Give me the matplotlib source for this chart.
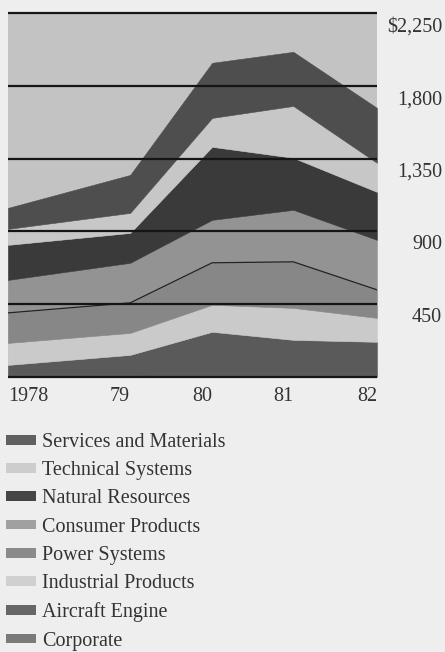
import numpy as np
import matplotlib
matplotlib.use('Agg')
import matplotlib.pyplot as plt
import matplotlib.transforms as mtransforms
from matplotlib.patches import Patch

# data ($ millions), bottom layer first
years = [1978, 1979, 1980, 1981, 1982]
corporate = [15, 20, 25, 25, 25]
aircraft = [59, 116, 254, 204, 192]
industrial = [136, 136, 167, 198, 148]
power = [186, 186, 260, 285, 174]
consumer = [204, 248, 266, 322, 309]
natural = [217, 185, 452, 322, 297]
technical = [99, 124, 179, 321, 180]
services = [130, 235, 341, 335, 340]

year_labels = ['1978', '79', '80', '81', '82']
y_ticks = [450, 900, 1350, 1800, 2250]
y_labels = ['450', '900', '1,350', '1,800', '$2,250']

names = ['Corporate', 'Aircraft Engine', 'Industrial Products', 'Power Systems',
         'Consumer Products', 'Natural Resources', 'Technical Systems',
         'Services and Materials']
colors = ['#5a5a5a', '#5a5a5a', '#cacaca', '#878787',
          '#939393', '#3a3a3a', '#c7c7c7', '#4e4e4e']
legend_colors = ['#7a7a7a', '#666666', '#d0d0d0', '#8a8a8a',
                 '#a0a0a0', '#454545', '#cdcdcd', '#606060']

# the original draws the first year segment wider than the rest
year_pos = [0, 1.49, 2.49, 3.48, 4.5]


def fwd(x):
    return np.interp(x, years, year_pos)


def inv(x):
    return np.interp(x, year_pos, years)


fig = plt.figure(figsize=(4.45, 6.52), dpi=100, facecolor='#eeeeee')
ax = fig.add_axes([0.018, 0.422, 0.829, 0.5575])
ax.set_facecolor('#c3c3c3')
ax.set_xscale('function', functions=(fwd, inv))

layers = [corporate, aircraft, industrial, power, consumer, natural, technical, services]
polys = ax.stackplot(years, *layers, colors=colors)
for p, c in zip(polys, colors):
    p.set_edgecolor(c)
    p.set_linewidth(0.4)

# thin line between Power Systems and Consumer Products
power_top = np.sum([corporate, aircraft, industrial, power], axis=0)
ax.plot(years, power_top, color='#222222', lw=0.9)

ax.hlines([0] + y_ticks, 1978, 1982, color='#151515', lw=1.6, clip_on=False, zorder=3)

ax.set_xlim(1978, 1982)
ax.set_ylim(0, 2250)
for s in ax.spines.values():
    s.set_visible(False)

txt = '#333333'
fs = 14.5
ax.set_xticks(years)
ax.set_xticklabels(year_labels, fontsize=fs, family='Liberation Serif', color=txt)
ax.tick_params(axis='x', length=0, pad=7)
for i, lab in enumerate(ax.get_xticklabels()):
    lab.set_ha('left' if i == 0 else 'right')

ax.yaxis.tick_right()
ax.set_yticks(y_ticks)
ax.set_yticklabels(y_labels, fontsize=fs, family='Liberation Serif', color=txt)
ax.tick_params(axis='y', length=0, pad=47)
shift = mtransforms.ScaledTranslation(0, -0.11, fig.dpi_scale_trans)
for lab in ax.get_yticklabels():
    lab.set_ha('right')
    lab.set_transform(lab.get_transform() + shift)

handles = [Patch(facecolor=c, edgecolor='none') for c in legend_colors[::-1]]
fig.legend(handles, names[::-1], loc='upper left', bbox_to_anchor=(0.014, 0.336),
           frameon=False, borderpad=0, borderaxespad=0, handlelength=1.5,
           handleheight=0.38, handletextpad=0.3, labelspacing=0.46,
           prop={'family': 'Liberation Serif', 'size': fs}, labelcolor=txt)

fig.savefig('out.png', dpi=100, facecolor=fig.get_facecolor())
